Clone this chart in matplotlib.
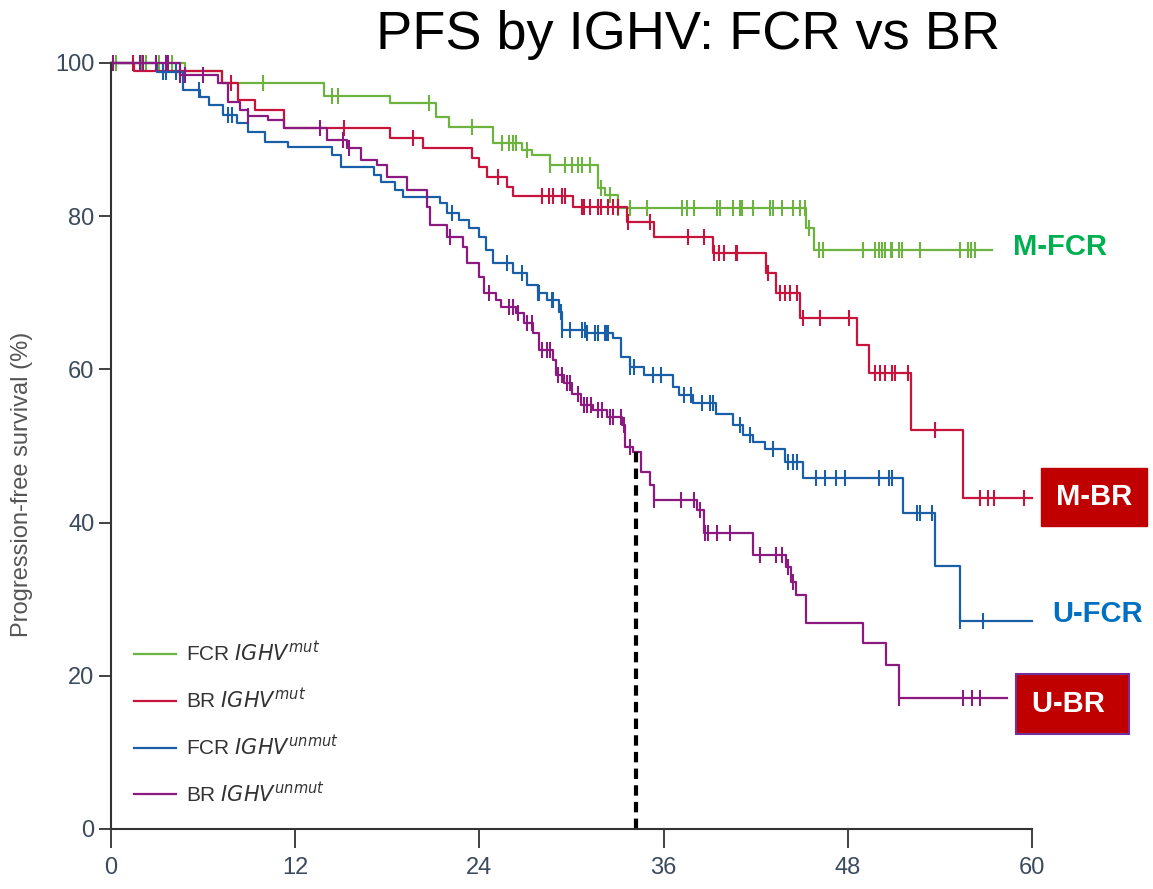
import numpy as np
import matplotlib
matplotlib.use("Agg")
import matplotlib.pyplot as plt

# step curves (month, PFS %)
fcr_mut_t = [0, 4.8, 7.2, 13.9, 18.2, 21.2, 22.0, 24.9, 26.8, 27.4, 28.6, 31.7, 32.2, 33.0, 45.3, 45.8, 57.4]
fcr_mut_s = [100, 99.0, 97.4, 95.7, 94.8, 93.0, 91.7, 89.6, 88.6, 88.0, 86.7, 83.7, 82.8, 81.1, 78.5, 75.6, 75.6]
fcr_mut_c = [0.3, 2.0, 2.3, 3.1, 4.0, 9.9, 14.4, 14.8, 20.7, 23.5, 25.5, 25.9, 26.2, 26.4, 27.1,
             28.6, 29.6, 30.0, 30.4, 30.7, 31.2, 31.9, 32.5, 33.0, 33.8, 34.9, 37.2, 37.5, 38.0,
             39.5, 39.7, 40.5, 41.0, 41.1, 41.8, 42.9, 43.1, 43.7, 44.4, 44.9, 45.2, 45.5,
             46.1, 46.4, 49.0, 49.8, 50.0, 50.2, 50.4, 50.8, 50.9, 51.3, 51.5, 52.7, 55.3, 55.8, 56.0, 56.3]

br_mut_t = [0, 1.5, 7.2, 8.3, 9.4, 11.3, 18.2, 20.3, 23.5, 24.0, 24.5, 25.8, 26.2, 30.1, 33.6, 35.4,
            39.2, 42.7, 43.3, 44.9, 48.6, 49.4, 52.1, 55.5, 60.0]
br_mut_s = [100, 99.0, 97.4, 95.2, 93.9, 91.5, 90.2, 88.9, 87.6, 86.4, 85.1, 83.8, 82.6, 81.2, 79.2, 77.3,
            75.2, 72.6, 70.0, 66.7, 63.2, 59.5, 52.1, 43.2, 43.2]
br_mut_c = [1.4, 7.8, 15.2, 19.7, 25.2, 28.1, 28.5, 28.8, 29.4, 29.6, 30.7, 30.8, 31.2, 31.7, 31.9,
            32.4, 32.7, 33.0, 33.7, 35.1, 37.6, 38.6, 39.3, 39.6, 39.9, 40.7, 40.8, 42.8, 43.6, 43.9,
            44.2, 44.7, 45.1, 46.2, 48.1, 49.8, 50.1, 50.4, 50.9, 51.1, 51.9, 53.7, 56.6, 57.1, 57.5, 59.5]

fcr_unmut_t = [0, 3.0, 4.7, 5.8, 6.4, 7.3, 8.2, 8.9, 10.0, 11.5, 14.4, 15.0, 17.1, 17.6, 18.5, 19.0,
               21.4, 21.9, 22.7, 23.3, 24.0, 24.4, 24.9, 26.2, 27.1, 27.8, 28.4, 29.2, 29.4, 31.0, 32.7,
               33.2, 33.8, 34.7, 36.6, 37.0, 37.9, 39.4, 40.5, 41.2, 41.8, 42.6, 43.9, 45.1, 51.6, 53.7,
               55.3, 60.0]
fcr_unmut_s = [100, 98.8, 96.5, 95.6, 94.5, 93.2, 92.2, 91.0, 89.7, 89.0, 88.0, 86.4, 85.4, 84.5, 83.4,
               82.5, 81.7, 80.4, 79.5, 78.4, 77.3, 75.6, 73.9, 72.6, 71.0, 70.0, 69.1, 67.5, 65.1, 64.7,
               64.1, 61.6, 60.3, 59.3, 57.7, 56.7, 55.6, 54.2, 52.8, 51.4, 50.5, 49.6, 47.9, 45.8, 41.3,
               34.3, 27.2, 27.2]
fcr_unmut_c = [3.4, 3.6, 4.2, 5.7, 7.6, 7.9, 22.2, 25.8, 26.8, 27.8, 27.9, 28.7, 28.8, 29.3, 29.4, 29.9,
               30.7, 30.9, 31.0, 31.5, 31.7, 32.2, 32.3, 32.4, 33.8, 34.1, 35.3, 35.8, 37.3, 37.8, 38.5,
               39.0, 39.2, 41.0, 41.6, 43.1, 44.1, 44.4, 44.7, 45.9, 46.5, 47.2, 47.8, 50.0, 50.7, 50.9,
               52.5, 52.7, 53.5, 55.3, 56.8]

br_unmut_t = [0, 4.5, 7.0, 7.6, 8.4, 8.9, 10.2, 11.3, 14.1, 15.4, 16.3, 17.3, 18.0, 19.3, 20.6, 20.8,
              21.9, 22.9, 23.2, 24.0, 24.3, 25.1, 25.4, 26.4, 26.9, 27.5, 27.9, 28.8, 29.0, 29.5, 30.0,
              30.6, 31.4, 32.3, 33.3, 33.5, 34.0, 34.5, 35.1, 35.4, 38.2, 38.6, 41.8, 44.0, 44.3, 44.6,
              45.3, 49.0, 50.5, 51.3, 58.4]
br_unmut_s = [100, 98.4, 97.4, 94.9, 93.9, 93.1, 92.6, 91.5, 89.9, 88.9, 87.3, 86.7, 85.1, 83.4, 81.2,
              78.9, 77.3, 76.0, 73.9, 72.1, 70.0, 69.1, 68.2, 67.4, 66.1, 64.7, 62.5, 61.2, 59.3, 58.2,
              56.8, 55.4, 54.7, 53.8, 52.7, 49.9, 49.2, 46.6, 44.9, 42.9, 41.6, 38.6, 35.8, 34.2, 32.3,
              30.5, 26.9, 24.3, 21.4, 17.1, 17.1]
br_unmut_c = [0.1, 1.9, 2.1, 2.9, 3.6, 3.7, 4.5, 4.8, 6.0, 8.9, 13.6, 15.1, 15.5, 22.1, 24.6, 25.9, 26.2,
              26.5, 27.1, 27.4, 28.1, 28.4, 28.6, 29.1, 29.4, 29.7, 29.9, 30.4, 30.8, 31.0, 31.3, 31.7,
              32.0, 32.5, 32.7, 33.2, 33.4, 33.8, 35.4, 37.1, 38.0, 38.4, 38.7, 38.9, 39.5, 40.3, 42.3,
              43.3, 43.7, 44.1, 44.4, 51.3, 55.5, 56.1, 56.6]

labels = ["FCR $\\mathit{IGHV}^{mut}$", "BR $\\mathit{IGHV}^{mut}$",
          "FCR $\\mathit{IGHV}^{unmut}$", "BR $\\mathit{IGHV}^{unmut}$"]
colors = ["#6DB33F", "#C8143C", "#1A5EA8", "#8B1A80"]
median_ubr = 34.2

fig = plt.figure(figsize=(11.53, 8.89), dpi=100)
ax = fig.add_axes([0.0963, 0.0675, 0.7988, 0.8617])

curves = [(fcr_mut_t, fcr_mut_s, fcr_mut_c), (br_mut_t, br_mut_s, br_mut_c),
          (fcr_unmut_t, fcr_unmut_s, fcr_unmut_c), (br_unmut_t, br_unmut_s, br_unmut_c)]
for (t, s, c), col, lab in zip(curves, colors, labels):
    t = np.array(t)
    s = np.array(s)
    ax.step(t, s, where="post", color=col, lw=1.6, label=lab, clip_on=False)
    c = np.array(c)
    idx = np.searchsorted(t, c, side="right") - 1
    ax.plot(c, s[idx], ls="none", marker="|", ms=11, mew=1.5, color=col, clip_on=False)

# median line for U-BR
ax.plot([median_ubr, median_ubr], [0, 49.9], color="black", lw=3, ls=(0, (2.5, 1.5)))

ax.set_xlim(0, 60)
ax.set_ylim(0, 100)
ax.set_xticks([0, 12, 24, 36, 48, 60])
ax.set_yticks([0, 20, 40, 60, 80, 100])
for sp in ["top", "right"]:
    ax.spines[sp].set_visible(False)
for sp in ["left", "bottom"]:
    ax.spines[sp].set_color("#333333")
    ax.spines[sp].set_linewidth(1.5)
tick_font = ["Liberation Sans Narrow", "Liberation Sans", "DejaVu Sans"]
ax.tick_params(axis="x", length=14, width=1.3, color="#333333", pad=6, labelsize=17, labelcolor="#3b4a5c")
ax.tick_params(axis="y", length=9, width=1.3, color="#333333", pad=3, labelsize=17, labelcolor="#3b4a5c")
for lbl in ax.get_xticklabels() + ax.get_yticklabels():
    lbl.set_family(tick_font)

ax.set_ylabel("Progression-free survival (%)", fontsize=17, color="#555555", family=tick_font)
ax.yaxis.set_label_coords(-0.085, 0.45)

leg = ax.legend(loc="lower left", bbox_to_anchor=(0.005, 0.006), frameon=False,
                handlelength=2.0, handletextpad=0.5, labelspacing=1.05,
                prop={"family": tick_font, "size": 15})
for txt in leg.get_texts():
    txt.set_color("#333333")

fig.text(0.597, 0.961, "PFS by IGHV: FCR vs BR", fontsize=39, ha="center", va="center",
         family=["Liberation Sans", "DejaVu Sans"])

lab_font = ["Liberation Sans", "DejaVu Sans"]
fig.text(0.919, 0.722, "M-FCR", fontsize=21, fontweight="bold", color="#00B050",
         ha="center", va="center", family=lab_font)
fig.text(0.952, 0.309, "U-FCR", fontsize=21, fontweight="bold", color="#0070C0",
         ha="center", va="center", family=lab_font)
fig.text(0.949, 0.441, "M-BR", fontsize=21, fontweight="bold", color="white", ha="center", va="center",
         family=lab_font, bbox=dict(boxstyle="square,pad=0.5", fc="#C00000", ec="#C00000"))
fig.text(0.930, 0.208, "U-BR ", fontsize=21, fontweight="bold", color="white", ha="center", va="center",
         family=lab_font, bbox=dict(boxstyle="square,pad=0.55", fc="#C00000", ec="#7030A0", lw=1.5))

fig.savefig("out.png", dpi=100)
